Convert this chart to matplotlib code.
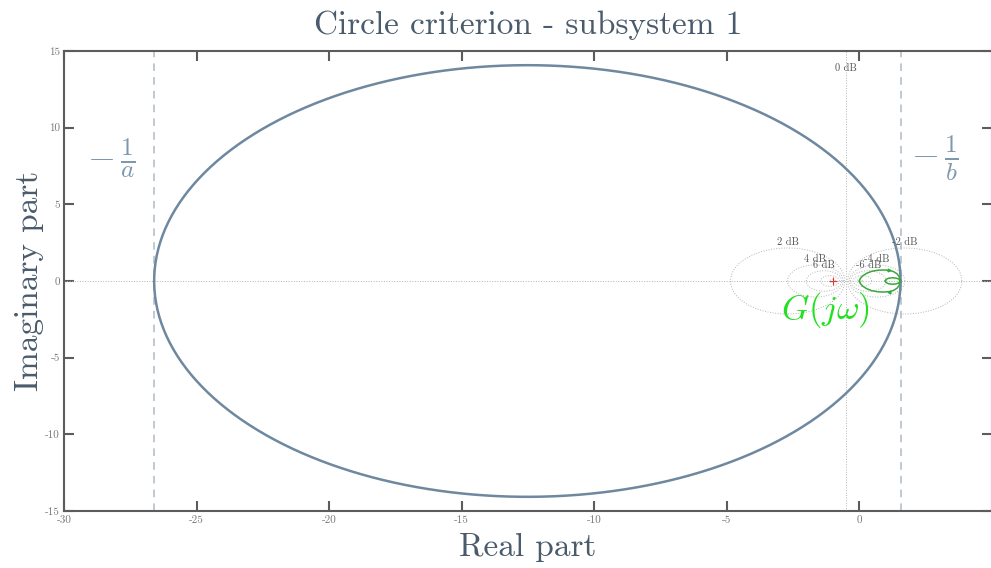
#!/usr/bin/env python3
# Circle criterion plot for subsystem 1: Nyquist curve, sector disc and M-circle grid.
import numpy as np
import matplotlib
import matplotlib.pyplot as plt

matplotlib.rcParams['font.family'] = 'serif'
matplotlib.rcParams['font.serif'] = ['cmr10', 'DejaVu Serif']
matplotlib.rcParams['mathtext.fontset'] = 'cm'
matplotlib.rcParams['axes.unicode_minus'] = False

# Sector bounds, shown as -1/a and -1/b on the real axis
minus_inv_a = -26.6
minus_inv_b = 1.55

# G(jw), upper half of each loop (lower half is the conjugate)
big_loop_re = [1.53, 1.50, 1.42, 1.28, 1.10, 0.90, 0.68, 0.46, 0.27, 0.12, 0.03, 0.0]
big_loop_im = [0.0, 0.28, 0.47, 0.62, 0.70, 0.72, 0.70, 0.63, 0.50, 0.33, 0.16, 0.0]
small_loop_re = [1.53, 1.48, 1.38, 1.24, 1.10, 1.01, 0.97]
small_loop_im = [0.0, 0.13, 0.19, 0.21, 0.18, 0.11, 0.0]

# M-circle grid (dB) and the ones that get a label
grid_db = [-20, -10, -6, -4, -2, 0, 2, 4, 6, 10, 20]
labelled_db = [-6, -4, -2, 2, 4, 6]

xlim = (-30, 5)
ylim = (-15, 15)

slate = '#6e889f'
title_col = '#4a5b6c'
spine_col = '#5c5c5c'
grid_col = '#b4b4b4'

fig = plt.figure(figsize=(9.91, 5.68), dpi=100)
ax = fig.add_axes([64 / 991, 57 / 568, 928 / 991, 460 / 568])

# M-circles
t = np.linspace(0, 2 * np.pi, 400)
for db in grid_db:
    if db == 0:
        ax.axvline(-0.5, color=grid_col, lw=0.7, ls=':')
        ax.text(-0.5, 13.9, '0 dB', fontsize=7.5, color='#555555', ha='center', va='center')
        continue
    m = 10 ** (db / 20)
    c = -m**2 / (m**2 - 1)
    r = abs(m / (m**2 - 1))
    ax.plot(c + r * np.cos(t), r * np.sin(t), color=grid_col, lw=0.7, ls=':')
    if db in labelled_db:
        ax.text(c, r + 0.05, f'{db} dB', fontsize=7.5, color='#555555', ha='center', va='bottom')
ax.axhline(0, color=grid_col, lw=0.7, ls=':')
ax.plot([-1], [0], marker='+', color='#e03535', ms=6, mew=0.8)

# sector lines and the disc between them
for xv in (minus_inv_a, minus_inv_b):
    ax.axvline(xv, color='#aebbc8', lw=1.1, ls=(0, (5, 4)))
cx = (minus_inv_a + minus_inv_b) / 2
rad = (minus_inv_b - minus_inv_a) / 2
ax.plot(cx + rad * np.cos(t), rad * np.sin(t), color=slate, lw=1.8)

# Nyquist curve
green = '#3aa83a'
for re, im in ((big_loop_re, big_loop_im), (small_loop_re, small_loop_im)):
    re = np.array(re)
    im = np.array(im)
    ax.plot(re, im, color=green, lw=1.1)
    ax.plot(re, -im, color=green, lw=1.1)
ax.plot([big_loop_re[4]], [big_loop_im[4]], marker='>', color=green, ms=2)
ax.plot([big_loop_re[4]], [-big_loop_im[4]], marker='<', color=green, ms=2)

ax.text(-28.2, 8.0, r'$-\,\frac{1}{a}$', fontsize=26, color='#7d97ad', ha='center', va='center')
ax.text(2.85, 8.0, r'$-\,\frac{1}{b}$', fontsize=26, color='#7d97ad', ha='center', va='center')
ax.text(-1.3, -1.9, r'$G(j\omega)$', fontsize=25, color='#22e022', ha='center', va='center')

ax.set_xlim(*xlim)
ax.set_ylim(*ylim)
ax.set_xticks(np.arange(-30, 5, 5))
ax.set_yticks(np.arange(-15, 16, 5))
ax.tick_params(direction='in', length=7, width=1.5, color=spine_col, labelsize=8,
               labelcolor='#777777', top=True, right=True, pad=3)
for s in ax.spines.values():
    s.set_color(spine_col)
    s.set_linewidth(1.5)

ax.set_title('Circle criterion - subsystem 1', fontsize=24, color=title_col, pad=12)
ax.set_xlabel('Real part', fontsize=24, color=title_col, labelpad=6)
ax.set_ylabel('Imaginary part', fontsize=24, color=title_col, labelpad=1)

fig.savefig('out.png', dpi=100)
